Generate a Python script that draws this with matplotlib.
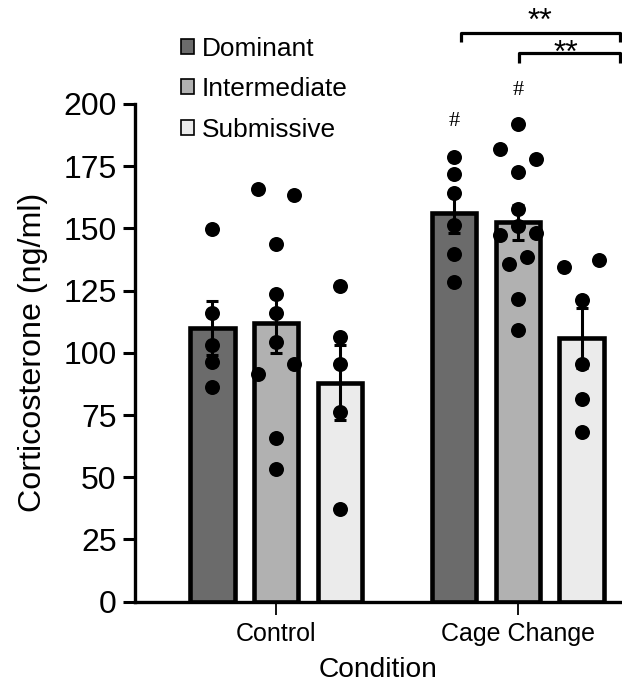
import matplotlib
matplotlib.use("Agg")
import matplotlib.pyplot as plt
from matplotlib.patches import Patch

plt.rcParams['font.family'] = ['Liberation Sans', 'DejaVu Sans']

# ---------------- data ----------------
conditions = ["Control", "Cage Change"]
groups = ["Dominant", "Intermediate", "Submissive"]
group_colors = ["#6b6b6b", "#b1b1b1", "#ebebeb"]

means = {
    "Dominant":     [110.0, 156.0],
    "Intermediate": [112.0, 152.5],
    "Submissive":   [88.0, 106.0],
}
sems = {
    "Dominant":     [11.0, 8.0],
    "Intermediate": [12.0, 7.0],
    "Submissive":   [15.0, 12.0],
}

# individual animals (value, jitter slot)
ctrl_dom = [149.7, 116.2, 103.1, 96.4, 86.1]
ctrl_dom_j = [0, 0, 0, 0, 0]
ctrl_int = [165.7, 163.3, 143.6, 123.6, 116.2, 104.4, 91.7, 95.7, 65.6, 53.3]
ctrl_int_j = [-1, 1, 0, 0, 0, 0, -1, 1, 0, 0]
ctrl_sub = [126.9, 106.4, 95.7, 76.1, 37.2]
ctrl_sub_j = [0, 0, 0, 0, 0]
cage_dom = [178.7, 171.8, 164.3, 151.3, 139.9, 128.5]
cage_dom_j = [0, 0, 0, 0, 0, 0]
cage_int = [191.8, 181.8, 177.8, 172.8, 157.7, 150.8, 147.5, 148.2, 138.6, 135.6, 121.5, 109.0]
cage_int_j = [0, -1, 1, 0, 0, 0, -1, 1, 0.5, -0.5, 0, 0]
cage_sub = [134.5, 137.5, 121.4, 95.5, 81.3, 68.0]
cage_sub_j = [-1, 1, 0, 0, 0, 0]

points = {
    ("Dominant", 0): (ctrl_dom, ctrl_dom_j),
    ("Intermediate", 0): (ctrl_int, ctrl_int_j),
    ("Submissive", 0): (ctrl_sub, ctrl_sub_j),
    ("Dominant", 1): (cage_dom, cage_dom_j),
    ("Intermediate", 1): (cage_int, cage_int_j),
    ("Submissive", 1): (cage_sub, cage_sub_j),
}

yticks = [0, 25, 50, 75, 100, 125, 150, 175, 200]

# significance annotations
hash_marks = [("Dominant", 1, 191.3), ("Intermediate", 1, 203.8)]

# ---------------- style ----------------
W, H = 622, 682
fig = plt.figure(figsize=(W / 100, H / 100), dpi=100)
ax = fig.add_axes([135 / W, 80.3 / H, (W - 135) / W, (601.7 - 104) / H])

spacing = 0.263
bar_w = 0.183
jit = 0.073

for gi, g in enumerate(groups):
    off = (gi - 1) * spacing
    xs = [c + off for c in range(len(conditions))]
    ax.bar(xs, means[g], width=bar_w, color=group_colors[gi], edgecolor="black",
           linewidth=3.3, zorder=2)
    ax.errorbar(xs, means[g], yerr=sems[g], fmt="none", ecolor="black",
                elinewidth=2.2, capsize=4.6, capthick=2.2, zorder=3)
    for ci in range(len(conditions)):
        vals, js = points[(g, ci)]
        px = [ci + off + j * jit for j in js]
        ax.plot(px, vals, "o", color="black", ms=10.8, mew=0, zorder=4,
                clip_on=False)

ax.set_xlim(-0.583, 1.43)
ax.set_ylim(0, 200)
ax.set_yticks(yticks)
ax.set_xticks(range(len(conditions)))
ax.set_xticklabels(conditions, fontsize=18)
ax.tick_params(axis="y", labelsize=23, length=8.8, width=2.2, pad=4.5)
ax.tick_params(axis="x", length=9.5, width=1.3, pad=5)
for s in ["top", "right"]:
    ax.spines[s].set_visible(False)
for s in ["left", "bottom"]:
    ax.spines[s].set_linewidth(2.4)

ax.set_ylabel("Corticosterone (ng/ml)", fontsize=23.2, labelpad=11)
ax.set_xlabel("Condition", fontsize=20.3, labelpad=8)

# hash marks
for g, ci, y in hash_marks:
    gi = groups.index(g)
    ax.text(ci + (gi - 1) * spacing, y, "#", family="Liberation Serif",
            fontsize=16, ha="center", va="baseline", zorder=5)

# brackets
def bracket(x0, x1, y, drop, star_x, star_y):
    ax.plot([x0, x0, x1, x1], [y - drop, y, y, y - drop], color="black",
            lw=2.3, clip_on=False, solid_joinstyle="round",
            solid_capstyle="butt", zorder=5)
    ax.text(star_x, star_y, "**", fontsize=23, ha="center", va="baseline",
            clip_on=False)

bracket(0.763, 1.421, 228.7, 3.8, 1.09, 229.8)
bracket(1.005, 1.421, 220.5, 4.0, 1.20, 217.0)

# legend
handles = [Patch(facecolor=c, edgecolor="black", linewidth=1.2) for c in group_colors]
leg = fig.legend(handles, groups, loc="upper left",
                 bbox_to_anchor=(180.7 / W, 1 - 37 / H), frameon=False,
                 fontsize=18.9, handlelength=0.5, handleheight=0.5,
                 handletextpad=0.3, labelspacing=0.62, borderpad=0,
                 borderaxespad=0)

fig.savefig("out.png", dpi=100)
